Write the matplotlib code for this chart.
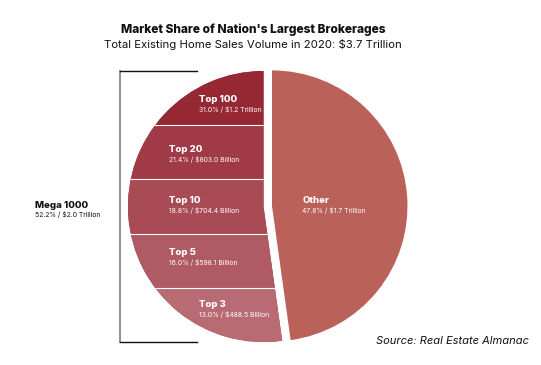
import numpy as np
import matplotlib
matplotlib.use("Agg")
import matplotlib.pyplot as plt

plt.rcParams['font.family'] = ['Inter', 'DejaVu Sans']

W, H = 541, 365

# data
shares = [52.2, 47.8]                      # Mega 1000, Other
tiers = ['Top 100', 'Top 20', 'Top 10', 'Top 5', 'Top 3']
tier_pct = [31.0, 21.4, 18.8, 16.0, 13.0]
tier_vol = ['$1.2 Trillion', '$803.0 Billion', '$704.4 Billion',
            '$598.1 Billion', '$488.5 Billion']
other_vol = '$1.7 Trillion'
mega_vol = '$2.0 Trillion'

tier_colors = ['#962833', '#A13A47', '#A84B55', '#B05A64', '#B86B73']
other_color = '#BA6259'

fig = plt.figure(figsize=(W / 100, H / 100), dpi=100)
ax = fig.add_axes([0, 0, 1, 1])

cx, cy, r = 263.5, H - 206.5, 135.5

# explode is in data units here (pixels), not a fraction of the radius
wedges, _ = ax.pie(shares, startangle=90, radius=r, center=(cx, cy),
                   colors=[tier_colors[0], other_color],
                   explode=[0, 8.5], frame=True,
                   wedgeprops=dict(linewidth=0))
mega = wedges[0]

# horizontal bands inside the Mega 1000 wedge
edges = cy + r * np.linspace(1, -1, len(tiers) + 1)
for i, c in enumerate(tier_colors):
    ax.axhspan(edges[i + 1], edges[i], color=c, lw=0, clip_path=mega, zorder=2)
for e in edges[1:-1]:
    ax.axhline(e, color='white', lw=0.8, clip_path=mega, zorder=3)

ax.set_xlim(0, W)
ax.set_ylim(0, H)
ax.set_aspect('auto')
ax.axis('off')

# tier labels
lab_x = [199, 169, 169, 169, 199]
lab_y = [100, 150, 200.5, 252.5, 304.5]
for name, p, v, x, y in zip(tiers, tier_pct, tier_vol, lab_x, lab_y):
    ax.text(x, H - y, name, color='white', fontsize=6.9, fontweight='heavy',
            va='center', ha='left', zorder=4)
    ax.text(x, H - y - 9.5, f'{p:.1f}% / {v}', color='white', fontsize=4.9,
            va='center', ha='left', zorder=4)

ax.text(302.5, H - 200.5, 'Other', color='white', fontsize=6.9,
        fontweight='heavy', va='center', ha='left', zorder=4)
ax.text(302.5, H - 210, f'{shares[1]:.1f}% / {other_vol}', color='white',
        fontsize=4.9, va='center', ha='left', zorder=4)

# bracket and Mega 1000 label
ax.plot([120, 120], [H - 71, H - 342], color='#888888', lw=1.3)
ax.plot([120, 197], [H - 71, H - 71], color='#111111', lw=1)
ax.plot([120, 197], [H - 342, H - 342], color='#111111', lw=1)
ax.text(35, H - 205, 'Mega 1000', color='#111111', fontsize=6.9,
        fontweight='heavy', va='center', ha='left')
ax.text(35, H - 214, f'{shares[0]:.1f}% / {mega_vol}', color='#111111',
        fontsize=4.9, va='center', ha='left')

# titles
ax.text(253, H - 30, "Market Share of Nation's Largest Brokerages",
        fontsize=8.6, fontweight='heavy', ha='center', va='center',
        color='#111111')
ax.text(253, H - 45, 'Total Existing Home Sales Volume in 2020: $3.7 Trillion',
        fontsize=8.2, ha='center', va='center', color='#111111')
ax.text(529, H - 341.5, 'Source: Real Estate Almanac', fontsize=8.0,
        style='italic', ha='right', va='center', color='#111111')

fig.savefig('out.png', dpi=100)
